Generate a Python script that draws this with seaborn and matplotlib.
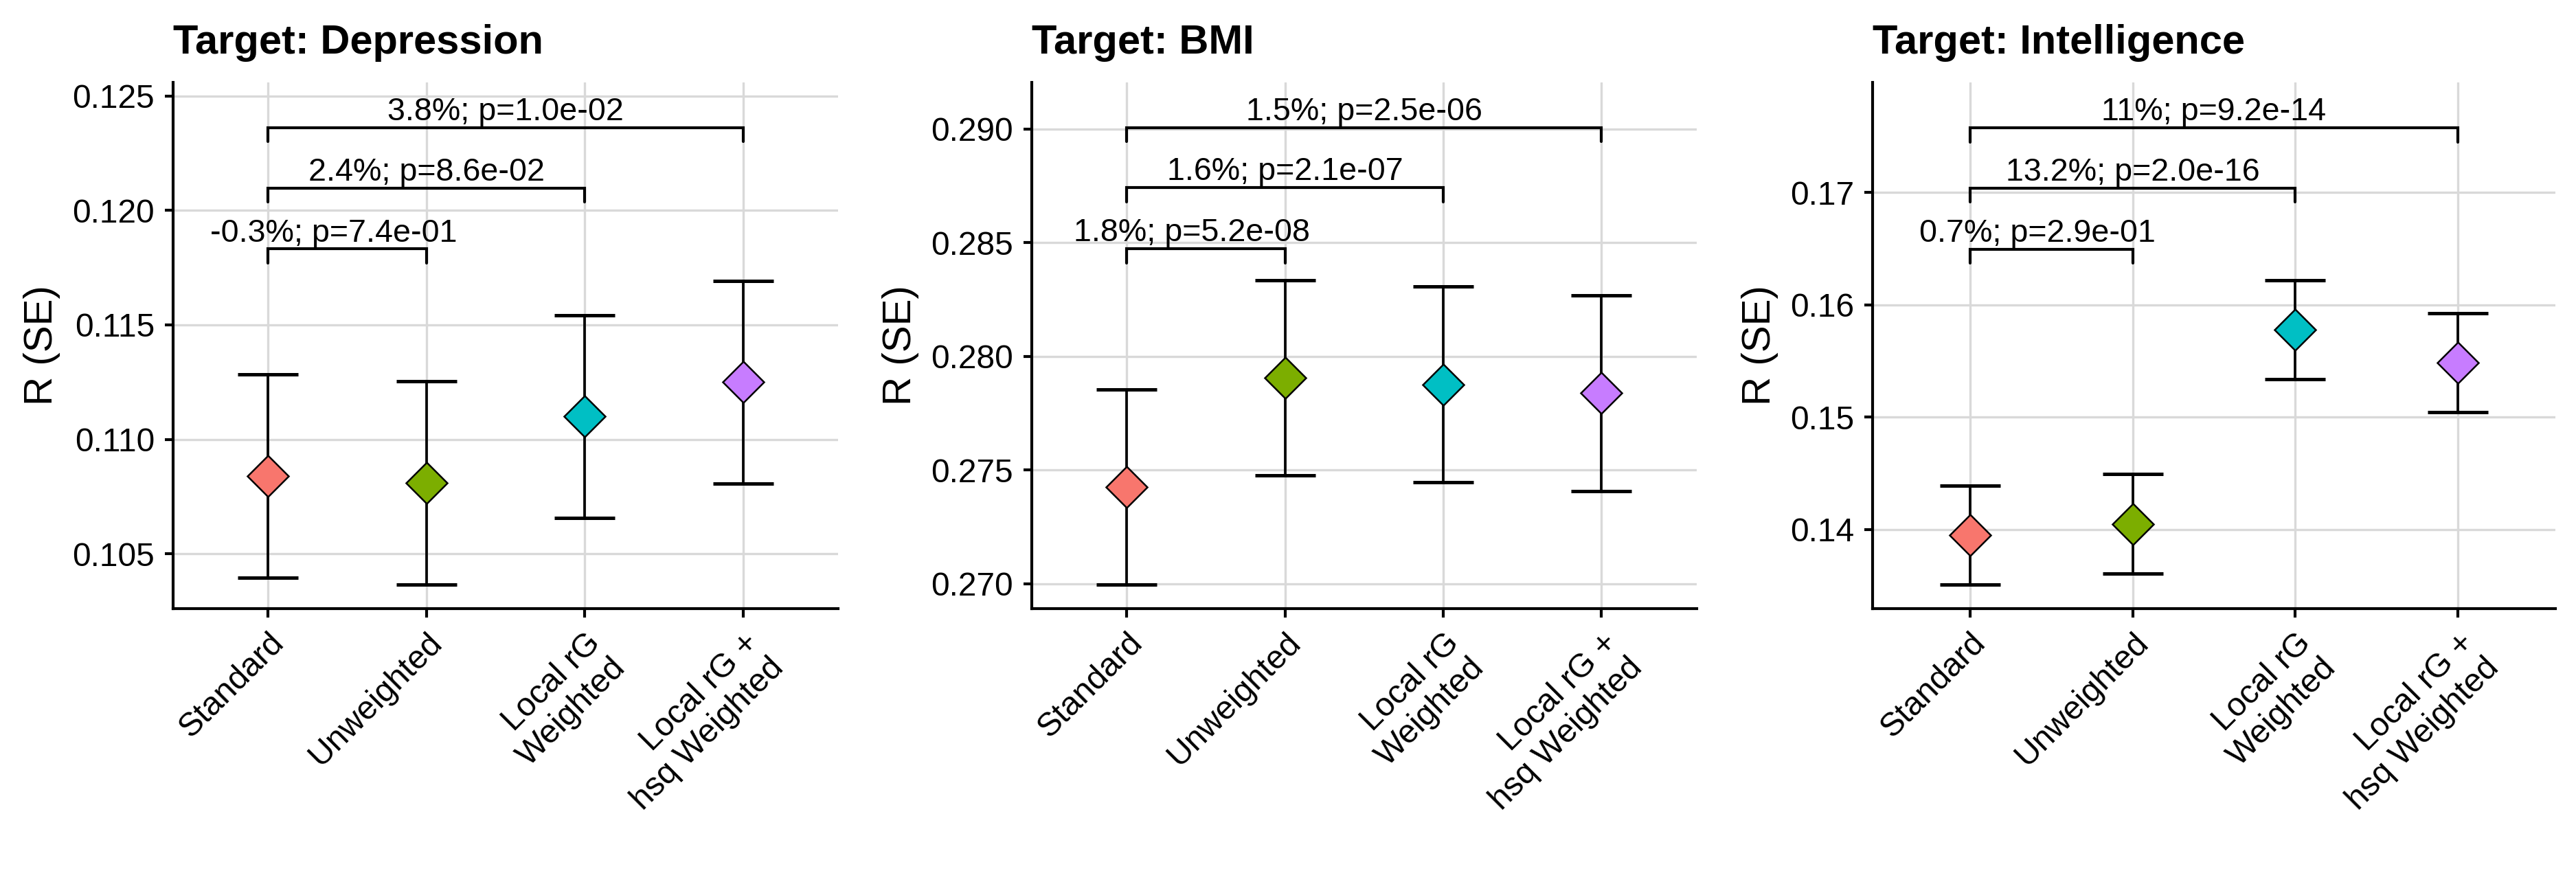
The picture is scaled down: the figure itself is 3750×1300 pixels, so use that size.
import numpy as np
import pandas as pd
import seaborn as sns
import matplotlib.pyplot as plt
from matplotlib.ticker import MultipleLocator, FormatStrFormatter

METHODS = ["Standard", "Unweighted", "Local rG\nWeighted", "Local rG +\nhsq Weighted"]
PALETTE = ["#F8766D", "#7CAE00", "#00BFC4", "#C77CFF"]
TARGETS = ["Depression", "BMI", "Intelligence"]

# R and SE per method
dep_r = [0.1084, 0.1081, 0.1110, 0.1125]
dep_se = [0.00444, 0.00445, 0.00443, 0.00443]
bmi_r = [0.27426, 0.27906, 0.27877, 0.27838]
bmi_se = [0.00429, 0.00430, 0.00430, 0.00430]
iq_r = [0.13949, 0.14048, 0.15780, 0.15486]
iq_se = [0.00442, 0.00443, 0.00440, 0.00440]

# comparisons against "Standard"
COMPARISONS = [(0, 1), (0, 2), (0, 3)]
dep_bracket_y = [0.11832, 0.12099, 0.12362]
bmi_bracket_y = [0.28473, 0.28742, 0.29007]
iq_bracket_y = [0.16495, 0.17040, 0.17578]
dep_labels = ["-0.3%; p=7.4e-01", "2.4%; p=8.6e-02", "3.8%; p=1.0e-02"]
bmi_labels = ["1.8%; p=5.2e-08", "1.6%; p=2.1e-07", "1.5%; p=2.5e-06"]
iq_labels = ["0.7%; p=2.9e-01", "13.2%; p=2.0e-16", "11%; p=9.2e-14"]

PANELS = [
    dict(r=dep_r, se=dep_se, br=dep_bracket_y, labels=dep_labels,
         ylim=(0.1026, 0.1256), step=0.005, fmt="%.3f",
         pos=[0.0672, 0.3185, 0.2581, 0.5892]),
    dict(r=bmi_r, se=bmi_se, br=bmi_bracket_y, labels=bmi_labels,
         ylim=(0.26891, 0.29205), step=0.005, fmt="%.3f",
         pos=[0.4005, 0.3185, 0.2581, 0.5892]),
    dict(r=iq_r, se=iq_se, br=iq_bracket_y, labels=iq_labels,
         ylim=(0.13294, 0.17982), step=0.01, fmt="%.2f",
         pos=[0.7269, 0.3185, 0.2651, 0.5892]),
]
LABEL_DX = [-4.8, 0, 0]  # first label sits a bit left of its bracket centre

sns.set_theme(style="whitegrid")
plt.rcParams["font.family"] = ["Liberation Sans", "DejaVu Sans"]

fig = plt.figure(figsize=(12.5, 13 / 3), dpi=300)

for target, p in zip(TARGETS, PANELS):
    ax = fig.add_axes(p["pos"])
    df = pd.DataFrame({"method": METHODS, "R": p["r"], "SE": p["se"]})

    sns.pointplot(data=df, x="method", y="R", hue="method", palette=PALETTE,
                  markers="D", linestyle="none", errorbar=None, markersize=10.2,
                  markeredgecolor="black", markeredgewidth=0.6, legend=False, ax=ax)
    for ln in ax.lines:
        ln.set_zorder(4)
    ax.errorbar(np.arange(len(df)), df["R"], yerr=df["SE"], fmt="none",
                ecolor="black", elinewidth=0.9, capsize=10.5, capthick=1.2, zorder=3)

    # significance brackets
    tip = 0.0268 * (p["ylim"][1] - p["ylim"][0])
    for (i, j), yb, lab, dx in zip(COMPARISONS, p["br"], p["labels"], LABEL_DX):
        ax.plot([i, i, j, j], [yb - tip, yb, yb, yb - tip], color="black", lw=1.0,
                solid_joinstyle="miter", zorder=3)
        ax.annotate(lab, xy=((i + j) / 2, yb), xytext=(dx, 2.6), textcoords="offset points",
                    ha="center", va="baseline", fontsize=11.2, color="black")

    ax.set_xlim(-0.6, 3.6)
    ax.set_ylim(*p["ylim"])
    ax.yaxis.set_major_locator(MultipleLocator(p["step"]))
    ax.yaxis.set_major_formatter(FormatStrFormatter(p["fmt"]))

    ax.grid(True, color="#D9D9D9", lw=0.8)
    sns.despine(ax=ax)
    for side in ["left", "bottom"]:
        ax.spines[side].set_color("black")
        ax.spines[side].set_linewidth(1.0)
    ax.tick_params(axis="both", bottom=True, left=True, length=3, width=1.0,
                   color="black", labelcolor="black", labelsize=11.5, pad=3.5)
    plt.setp(ax.get_xticklabels(), rotation=45, ha="right", va="top",
             rotation_mode="anchor")

    ax.set_xlabel("")
    ax.set_ylabel("R (SE)", fontsize=14, color="black", labelpad=4)
    ax.set_title(f"Target: {target}", loc="left", fontsize=14.3, fontweight="bold",
                 color="black", pad=10)

fig.savefig("out.png", dpi=300, facecolor="white")
